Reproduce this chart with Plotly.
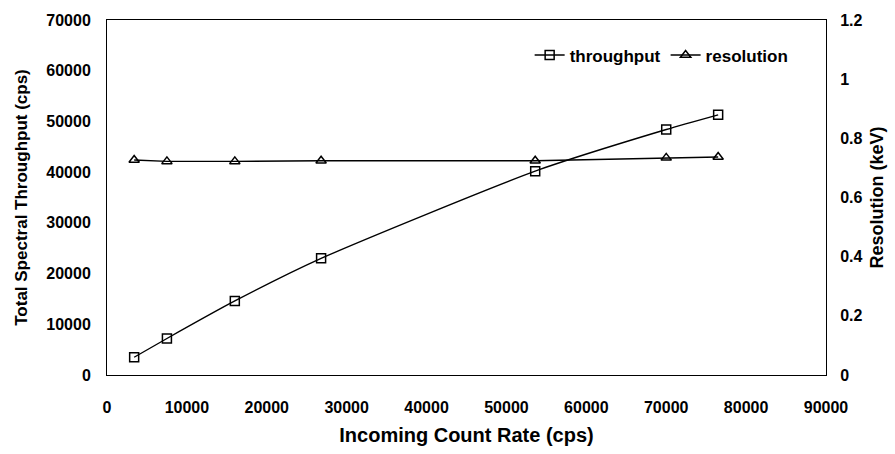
import plotly.graph_objects as go

incoming = [3400, 7500, 16000, 26800, 53600, 70000, 76500]
throughput = [3500, 7200, 14600, 23000, 40200, 48400, 51300]
resolution = [0.727, 0.722, 0.722, 0.724, 0.724, 0.734, 0.737]

FONT = "Arial, Liberation Sans, sans-serif"

fig = go.Figure()
fig.add_trace(go.Scatter(
    x=incoming, y=throughput, name="throughput", mode="lines+markers",
    line=dict(color="black", width=1.4, shape="spline", smoothing=0.6),
    marker=dict(symbol="square-open", size=9, color="black", line=dict(width=1.5)),
    yaxis="y"))
fig.add_trace(go.Scatter(
    x=incoming, y=resolution, name="resolution", mode="lines+markers",
    line=dict(color="black", width=1.4),
    marker=dict(symbol="triangle-up-open", size=9, color="black", line=dict(width=1.5)),
    yaxis="y2"))

tickfont = dict(family=FONT, size=16, color="black", weight="bold")
titlefont = dict(family=FONT, size=17, color="black", weight="bold")

fig.update_layout(
    width=895, height=454,
    margin=dict(l=107, r=65, t=20, b=75),
    paper_bgcolor="white", plot_bgcolor="white",
    font=dict(family=FONT, color="black"),
    showlegend=True,
    legend=dict(orientation="h", x=0.955, y=0.90, xanchor="right", yanchor="middle",
                bgcolor="rgba(0,0,0,0)", font=dict(family=FONT, size=17, weight="bold"),
                tracegroupgap=0),
    xaxis=dict(range=[0, 90000], tickvals=list(range(0, 90001, 10000)),
               tickformat="d", showgrid=False, zeroline=False,
               showline=True, linecolor="black", linewidth=1, mirror=True,
               ticks="", tickfont=tickfont, ticklabelstandoff=18,
               title=dict(text="Incoming Count Rate (cps)", standoff=12,
                          font=dict(family=FONT, size=20, color="black", weight="bold"))),
    yaxis=dict(range=[0, 70000], tickvals=list(range(0, 70001, 10000)),
               tickformat="d", showgrid=False, zeroline=False,
               showline=True, linecolor="black", linewidth=1,
               ticks="", tickfont=tickfont, ticklabelstandoff=12,
               title=dict(text="Total Spectral Throughput (cps)", standoff=14, font=titlefont)),
    yaxis2=dict(range=[0, 1.2], tickvals=[0, 0.2, 0.4, 0.6, 0.8, 1.0, 1.2],
                ticktext=["0", "0.2", "0.4", "0.6", "0.8", "1", "1.2"],
                overlaying="y", side="right", showgrid=False, zeroline=False,
                showline=True, linecolor="black", linewidth=1,
                ticks="", tickfont=tickfont, ticklabelstandoff=10,
                title=dict(text="Resolution (keV)", standoff=8,
                           font=dict(family=FONT, size=18, color="black", weight="bold"))),
)

fig.write_html("out.html")
